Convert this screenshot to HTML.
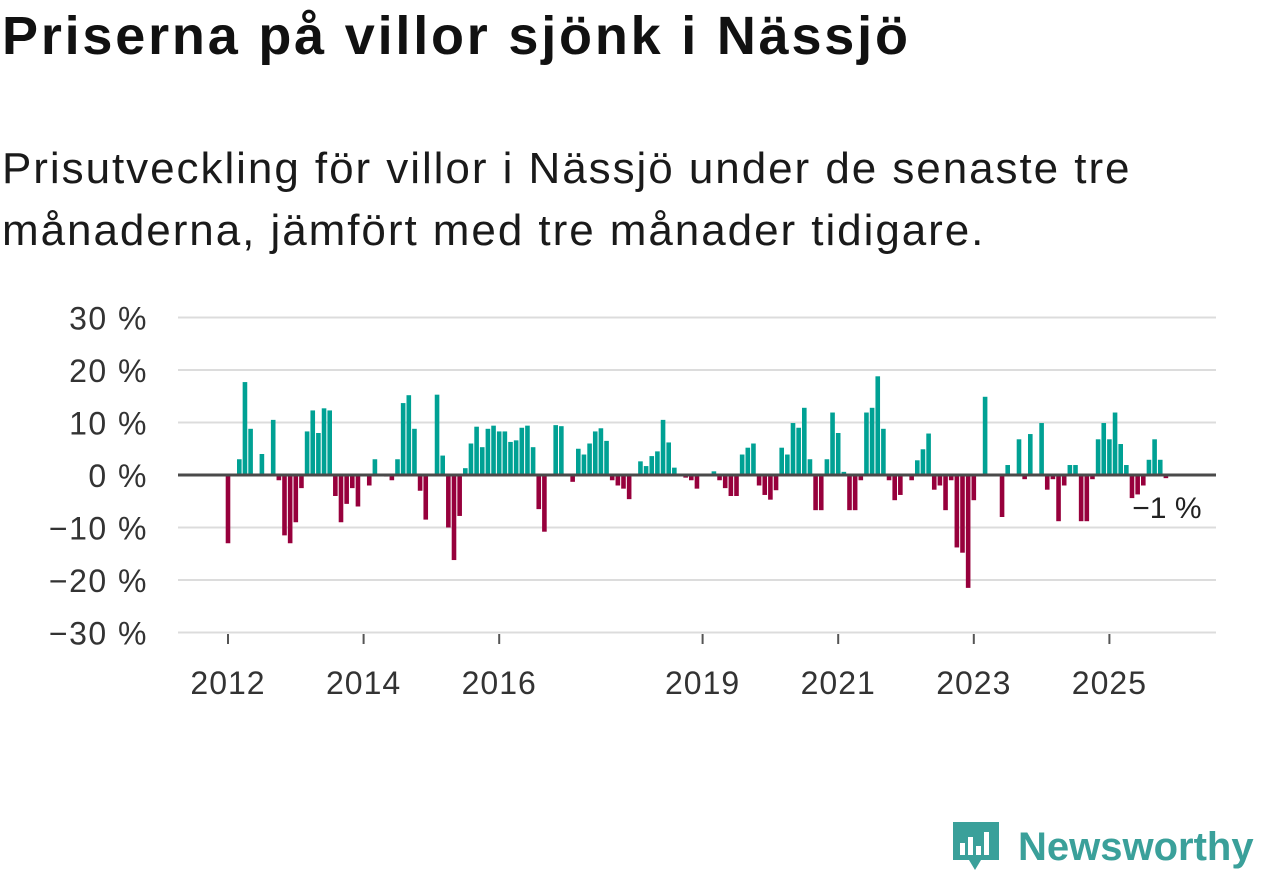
<!DOCTYPE html>
<html><head><meta charset="utf-8">
<style>
html,body{margin:0;padding:0;background:#fff;width:1262px;height:879px;overflow:hidden;font-family:"Liberation Sans","Noto Sans CJK SC",sans-serif;color:#111}
#title{position:absolute;left:2px;top:5px;font-size:54px;font-weight:bold;margin:0;color:#111;letter-spacing:2.8px;white-space:nowrap}
#subtitle{position:absolute;left:2px;top:138px;font-size:44px;line-height:62px;margin:0;color:#1a1a1a;letter-spacing:1.95px;white-space:nowrap}
svg{position:absolute;left:0;top:0}
text{font-family:"Liberation Sans","Noto Sans CJK SC",sans-serif}
</style></head>
<body>
<h1 id="title">Priserna på villor sjönk i Nässjö</h1>
<p id="subtitle">Prisutveckling för villor i Nässjö under de senaste tre<br>månaderna, jämfört med tre månader tidigare.</p>
<svg id="chart" width="1262" height="879"></svg>
<svg width="1262" height="879" style="pointer-events:none">
  <path d="M953 822 h46 v38 h-18 l-6 10 l-6 -10 h-16 z" fill="#3aa09a"/>
  <rect x="960" y="843" width="5" height="12" fill="#fff"/>
  <rect x="968" y="837" width="5" height="18" fill="#fff"/>
  <rect x="976" y="846" width="5" height="9" fill="#fff"/>
  <rect x="984" y="832" width="5" height="23" fill="#fff"/>
  <text x="1018" y="860" font-size="40" font-weight="bold" fill="#3aa09a">Newsworthy</text>
</svg>
<script>
const yTicks = [30,20,10,0,-10,-20,-30];
const yTickLabels = ["30 %","20 %","10 %","0 %","−10 %","−20 %","−30 %"];
const xTickYears = [2012,2014,2016,2019,2021,2023,2025];
const startYear = 2012;
const values = [
-13,0,3,17.7,8.8,0,4,0,10.5,-1,-11.5,-13,
-9,-2.5,8.3,12.3,8,12.7,12.3,-4,-9,-5.5,-2.5,-6,
0,-2,3,0,-0.3,-1,3,13.7,15.2,8.8,-3,-8.5,
0,15.3,3.7,-10,-16.2,-7.8,1.3,6,9.2,5.3,8.8,9.4,
8.3,8.3,6.3,6.6,9,9.4,5.3,-6.5,-10.8,0.2,9.5,9.3,
0,-1.3,5,3.9,6,8.3,8.9,6.5,-1,-2,-2.6,-4.6,
0,2.6,1.7,3.6,4.5,10.5,6.2,1.4,0,-0.5,-1,-2.6,
0,0,0.7,-1,-2.5,-4,-4,3.9,5.2,6,-2,-3.8,
-4.7,-2.9,5.2,3.9,9.9,9,12.8,3,-6.7,-6.7,3,11.9,
8,0.6,-6.7,-6.7,-1,11.9,12.8,18.8,8.8,-1,-4.8,-3.8,
0,-1,2.8,4.9,7.9,-2.8,-2,-6.7,-1,-13.8,-14.8,-21.5,
-4.8,0,14.9,0,0,-8,1.9,0,6.8,-0.8,7.8,0,
9.9,-2.8,-0.8,-8.8,-2,1.9,1.9,-8.8,-8.8,-0.8,6.8,9.9,
6.8,11.9,5.9,1.9,-4.4,-3.7,-2,2.9,6.8,2.9,-0.6
];
const lastLabel = "−1 %";

const svg = document.getElementById('chart');
const NS = 'http://www.w3.org/2000/svg';
const x0 = 178, x1 = 1216;
function yScale(v){ return 475 - v * 5.25; }
function xScale(i){ return 228 + i * (67.8/12); }
function mk(tag, attrs){ const e = document.createElementNS(NS, tag); for (const k in attrs) e.setAttribute(k, attrs[k]); svg.appendChild(e); return e; }

yTicks.forEach((t, k) => {
  if (t !== 0) {
    const g = mk('line', {x1:x0, x2:x1, y1:yScale(t), y2:yScale(t), stroke:'#dcdcdc', 'stroke-width':2});
    
    
  }
  const tx = mk('text', {x:148, y:yScale(t)+12, 'text-anchor':'end', 'font-size':32, 'letter-spacing':1.5, fill:'#333'});
  tx.textContent = yTickLabels[k];
  
  
});

xTickYears.forEach(yr => {
  const xx = xScale((yr - startYear) * 12);
  const tk = mk('line', {x1:xx, x2:xx, y1:634, y2:644, stroke:'#555', 'stroke-width':2});
  
  
  const tx = mk('text', {x:xx, y:694, 'text-anchor':'middle', 'font-size':32, 'letter-spacing':1, fill:'#333'});
  tx.textContent = yr;
  
  
});

values.forEach((v, i) => {
  if (v === 0) return;
  const xc = xScale(i);
  const y = Math.min(yScale(v), yScale(0));
  const h = Math.abs(yScale(v) - yScale(0));
  const r = mk('rect', {x:xc-2.3, y:y, width:4.6, height:h, fill: v > 0 ? '#00a194' : '#97003c'});
  
  
});

const zl = mk('line', {x1:x0, x2:x1, y1:yScale(0), y2:yScale(0), stroke:'#4a4a4a', 'stroke-width':3});



const li = values.length - 1;
const lbl = mk('text', {x:xScale(li)+1, y:518, 'text-anchor':'middle', 'font-size':30, fill:'#222'});
lbl.textContent = lastLabel;


</script>
</body></html>
